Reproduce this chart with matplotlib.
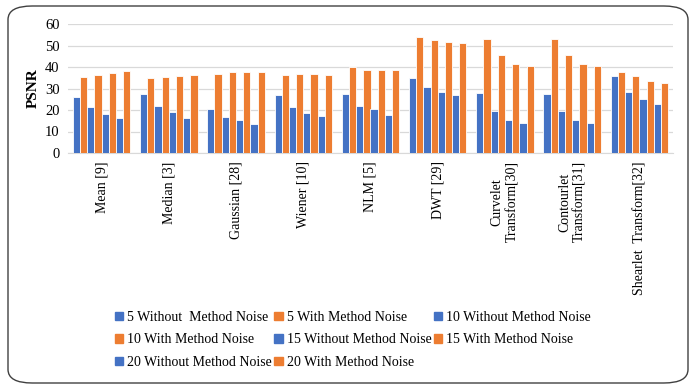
import numpy as np
import matplotlib
matplotlib.use("Agg")
from matplotlib import pyplot as plt
from matplotlib.patches import FancyBboxPatch, Patch

# categories (methods) and PSNR values per noise level
categories = ["Mean [9]", "Median [3]", "Gaussian [28]", "Wiener [10]", "NLM [5]",
              "DWT [29]", "Curvelet\nTransform[30]", "Contourlet\nTransform[31]",
              "Shearlet  Transform[32]"]

without_5 = [26.0, 27.3, 20.5, 26.8, 27.3, 34.9, 27.8, 27.3, 35.7]
with_5 = [35.3, 34.9, 36.6, 36.1, 39.8, 53.8, 53.2, 53.2, 37.5]
without_10 = [21.2, 22.0, 16.6, 21.6, 22.0, 30.7, 19.7, 19.4, 28.4]
with_10 = [36.3, 35.5, 37.5, 36.6, 38.6, 52.6, 45.7, 45.6, 35.7]
without_15 = [18.3, 18.9, 15.3, 18.6, 20.3, 28.4, 15.5, 15.3, 25.0]
with_15 = [37.2, 36.0, 37.5, 36.9, 38.4, 51.6, 41.6, 41.6, 33.6]
without_20 = [16.3, 16.4, 13.5, 17.2, 17.8, 26.8, 14.1, 14.1, 22.9]
with_20 = [38.0, 36.4, 37.8, 36.4, 38.8, 51.0, 40.3, 40.3, 32.4]

series_labels = ["5 Without  Method Noise", "5 With Method Noise",
                 "10 Without Method Noise", "10 With Method Noise",
                 "15 Without Method Noise", "15 With Method Noise",
                 "20 Without Method Noise", "20 With Method Noise"]

BLUE = "#4472C4"
ORANGE = "#ED7D31"

plt.rcParams['font.family'] = ['Liberation Serif', 'DejaVu Serif']

series = [without_5, with_5, without_10, with_10, without_15, with_15, without_20, with_20]
colors = [BLUE, ORANGE] * 4

fig = plt.figure(figsize=(6.93, 3.87), dpi=100)
ax = fig.add_axes([68 / 693, 1 - 153 / 387, (673 - 68) / 693, (153 - 24) / 387])

x = np.arange(len(categories))
bar_w = 0.107
for i, (vals, col) in enumerate(zip(series, colors)):
    offset = (i - 3.5) * bar_w
    ax.bar(x + offset, vals, width=bar_w, color=col, edgecolor="white",
           linewidth=0.6, zorder=3, label=series_labels[i])

ax.set_xlim(-0.5, len(categories) - 0.5)
ax.set_ylim(0, 60)
ax.set_yticks(range(0, 61, 10))
ax.yaxis.grid(True, color="#D9D9D9", linewidth=0.9, zorder=0)
ax.set_axisbelow(True)
for s in ["top", "right", "left"]:
    ax.spines[s].set_visible(False)
ax.spines["bottom"].set_color("#D9D9D9")
ax.tick_params(axis="both", length=0, labelsize=10.5, pad=6)
ax.set_xticks(x)
ax.set_xticklabels(categories, rotation=90, fontsize=10, va="top", ha="center",
                   multialignment="center")
ax.set_ylabel("PSNR", fontsize=11, fontweight="bold", labelpad=4)

# legend arranged row-wise like the original
order = [0, 3, 6, 1, 4, 7, 2, 5]
handles = [Patch(color=colors[i]) for i in order]
labels = [series_labels[i] for i in order]
fig.legend(handles, labels, ncol=3, loc="upper left", bbox_to_anchor=(108 / 693, 1 - 304 / 387),
           frameon=False, fontsize=10, handlelength=0.6, handleheight=0.6,
           handletextpad=0.3, columnspacing=0.15, labelspacing=0.68, borderpad=0)

# rounded border around the chart
border = FancyBboxPatch((8 / 693, 4 / 387), 680 / 693, 377 / 387,
                        boxstyle="round,pad=0,rounding_size=0.035",
                        transform=fig.transFigure, facecolor="none",
                        edgecolor="#404040", linewidth=1.0)
fig.patches.append(border)

fig.savefig("out.png", dpi=100)
